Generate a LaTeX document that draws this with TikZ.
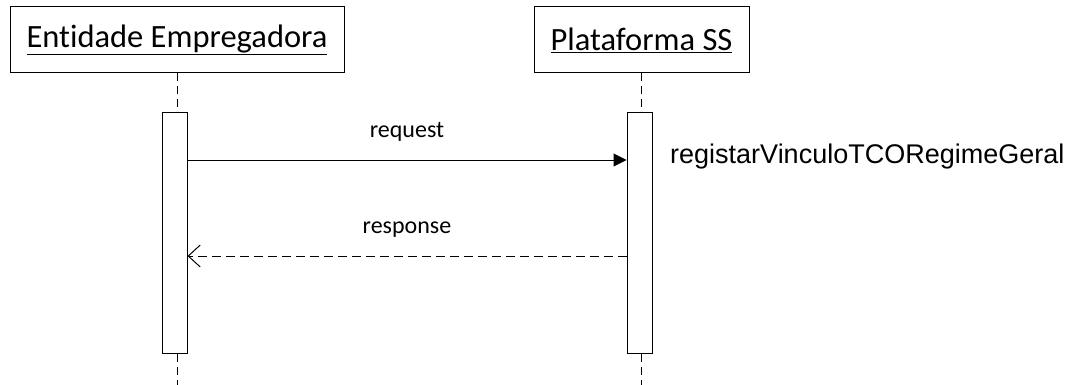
\documentclass[tikz,border=0pt]{standalone}
\usepackage{fontspec}
\setmainfont[RawFeature=-liga]{Carlito}
\newfontfamily\arialf{Liberation Sans}
\usetikzlibrary{arrows.meta}
\begin{document}
\begin{tikzpicture}[x=1pt,y=-1pt,
  actor/.style={draw,line width=1pt,minimum width=334pt,minimum height=66pt,inner sep=0pt,font=\fontsize{32.5}{38}\selectfont},
  actbar/.style={draw,line width=1pt,fill=white,minimum width=25pt,minimum height=240pt,inner sep=0pt},
  life/.style={line width=1pt,dash pattern=on 8pt off 5pt},
  msglabel/.style={inner sep=0pt,anchor=base,font=\fontsize{24}{28}\selectfont},
  call/.style={line width=1pt,-{Triangle[length=13pt,width=13pt]}},
  reply/.style={line width=1pt,dash pattern=on 9pt off 5pt,-{Straight Barb[length=12pt,width=22pt,line width=1pt]}}]
\useasboundingbox (0,0) rectangle (1073,385);
\node[actor,minimum width=334pt] (A) at (177,40) {\underline{Entidade Empregadora}};
\node[actor,minimum width=215pt] (B) at (641.5,40) {\underline{Plataforma SS}};
\node[actbar] (a1) at (174.5,233) {};
\node[actbar] (b1) at (639.5,233) {};
\coordinate (aend) at (177,385);
\coordinate (bend) at (641.5,385);
\draw[life] (A.south) -- (A.south |- a1.north);
\draw[life] (a1.south -| A.south) -- (aend);
\draw[life] (B.south) -- (B.south |- b1.north);
\draw[life] (b1.south -| B.south) -- (bend);
\draw[call] (a1.east |- 0,160) -- (b1.west |- 0,160);
\draw[reply] (b1.west |- 0,256) -- (a1.east |- 0,256);
\node[msglabel] (req) at (407,138) {request};
\node[msglabel] (resp) at (407,233) {response};
\node[inner sep=0pt,anchor=base west,font=\arialf\fontsize{27}{32}\selectfont] (op) at (670,163) {registarVinculoTCORegimeGeral};
\end{tikzpicture}
\end{document}
